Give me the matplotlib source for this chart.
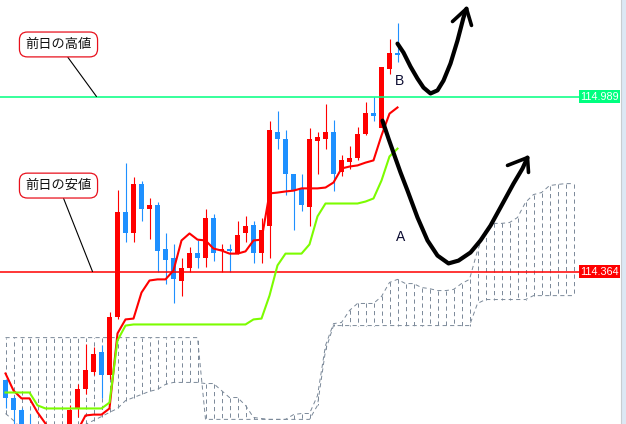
#!/usr/bin/env python3
"""USD/JPY hourly candles with ichimoku lines, cloud and previous-day high/low levels."""

import matplotlib
matplotlib.use("Agg")
import matplotlib.pyplot as plt
from matplotlib import transforms
from matplotlib.patches import Rectangle

plt.rcParams["lines.scale_dashes"] = False

# candles, one per bar index
opens = [113.975, 113.914, 113.871, 113.796, 113.725, 113.707, 113.671, 113.707, 113.761, 113.878,
         113.946, 114.007, 114.075, 113.996, 114.200, 114.578, 114.503, 114.678, 114.589, 114.603,
         114.443, 114.414, 114.332, 114.375, 114.432, 114.414, 114.557, 114.439, 114.446, 114.432,
         114.500, 114.532, 114.432, 114.525, 114.864, 114.839, 114.711, 114.661, 114.596, 114.832,
         114.836, 114.861, 114.718, 114.757, 114.768, 114.857, 114.932, 114.875, 115.089, 115.143]
highs = [113.982, 113.921, 113.878, 113.857, 113.761, 113.743, 113.725, 113.761, 113.889, 113.964,
         114.107, 114.096, 114.103, 114.221, 114.657, 114.750, 114.700, 114.689, 114.628, 114.614,
         114.503, 114.461, 114.411, 114.453, 114.475, 114.589, 114.568, 114.464, 114.464, 114.546,
         114.561, 114.543, 114.557, 114.903, 114.936, 114.868, 114.711, 114.711, 114.875, 114.861,
         114.961, 114.907, 114.782, 114.814, 114.882, 114.971, 114.986, 115.093, 115.196, 115.253]
lows = [113.875, 113.796, 113.761, 113.725, 113.654, 113.636, 113.618, 113.654, 113.725, 113.846,
        113.928, 113.993, 113.914, 113.982, 114.196, 114.468, 114.468, 114.546, 114.482, 114.361,
        114.321, 114.253, 114.275, 114.364, 114.378, 114.382, 114.403, 114.361, 114.361, 114.428,
        114.468, 114.393, 114.396, 114.411, 114.803, 114.636, 114.511, 114.582, 114.528, 114.714,
        114.803, 114.653, 114.707, 114.732, 114.761, 114.853, 114.900, 114.875, 115.068, 115.111]
closes = [113.914, 113.871, 113.789, 113.743, 113.689, 113.671, 113.707, 113.743, 113.868, 113.946,
          114.011, 114.071, 113.993, 114.200, 114.578, 114.500, 114.678, 114.589, 114.603, 114.436,
          114.407, 114.339, 114.375, 114.432, 114.411, 114.557, 114.432, 114.446, 114.436, 114.496,
          114.528, 114.432, 114.511, 114.868, 114.836, 114.711, 114.653, 114.603, 114.836, 114.843,
          114.861, 114.711, 114.761, 114.768, 114.857, 114.932, 114.918, 115.093, 115.146, 115.136]

# ichimoku conversion / base lines
tenkan = [114.000, 113.939, 113.911, 113.911, 113.861, 113.821, 113.778, 113.761, 113.761, 113.796,
          113.850, 113.853, 113.853, 113.875, 114.143, 114.193, 114.196, 114.289, 114.332, 114.336,
          114.336, 114.368, 114.475, 114.500, 114.478, 114.475, 114.446, 114.439, 114.428, 114.428,
          114.436, 114.475, 114.478, 114.643, 114.646, 114.650, 114.653, 114.661, 114.661, 114.661,
          114.664, 114.682, 114.732, 114.739, 114.743, 114.753, 114.761, 114.850, 114.928, 114.950]
kijun = [113.932, 113.932, 113.932, 113.932, 113.886, 113.875, 113.875, 113.875, 113.875, 113.875,
         113.875, 113.875, 113.875, 113.896, 114.118, 114.171, 114.175, 114.175, 114.175, 114.175,
         114.175, 114.175, 114.175, 114.175, 114.175, 114.175, 114.175, 114.175, 114.175, 114.175,
         114.175, 114.193, 114.196, 114.278, 114.386, 114.428, 114.428, 114.428, 114.461, 114.561,
         114.607, 114.607, 114.607, 114.607, 114.607, 114.614, 114.625, 114.689, 114.775, 114.803]

# leading spans (already displaced, so they run past the last candle)
span_a = [113.857, 113.832, 113.803, 113.789, 113.782, 113.778, 113.778, 113.782, 113.789, 113.803,
          113.818, 113.832, 113.846, 113.861, 113.875, 113.903, 113.914, 113.925, 113.936, 113.943,
          113.961, 113.968, 113.968, 113.968, 113.968, 113.964, 113.964, 113.939, 113.914, 113.914,
          113.886, 113.843, 113.839, 113.836, 113.836, 113.836, 113.853, 113.857, 113.857, 113.921,
          114.100, 114.178, 114.182, 114.225, 114.250, 114.250, 114.250, 114.275, 114.325, 114.336,
          114.321, 114.321, 114.307, 114.303, 114.296, 114.296, 114.300, 114.321, 114.336, 114.439,
          114.511, 114.536, 114.536, 114.539, 114.557, 114.611, 114.639, 114.646, 114.671, 114.675,
          114.678, 114.678]
span_b = [114.128, 114.128, 114.128, 114.128, 114.128, 114.128, 114.128, 114.128, 114.128, 114.128,
          114.128, 114.128, 114.128, 114.128, 114.128, 114.128, 114.128, 114.128, 114.128, 114.128,
          114.128, 114.128, 114.128, 114.128, 114.128, 113.836, 113.836, 113.836, 113.836, 113.836,
          113.836, 113.836, 113.836, 113.836, 113.836, 113.836, 113.836, 113.836, 113.836, 113.886,
          114.082, 114.171, 114.171, 114.171, 114.171, 114.171, 114.171, 114.171, 114.171, 114.171,
          114.171, 114.171, 114.171, 114.171, 114.171, 114.171, 114.171, 114.171, 114.171, 114.250,
          114.264, 114.264, 114.264, 114.264, 114.264, 114.264, 114.278, 114.278, 114.278, 114.278,
          114.278, 114.278]

levels = [114.989, 114.364]
level_labels = ["114.989", "114.364"]
level_colors = ["#00FF80", "#FF0000"]

notes = ["前日の高値", "前日の安値"]
note_xy = [(6.625, 115.175), (6.625, 114.671)]
note_target = [(11.375, 114.989), (10.875, 114.364)]

# hand drawn scenario arrows (bar index, price)
arrow_b_x = [49.0, 49.75, 50.625, 51.5, 52.25, 53.125, 54.0, 54.75, 55.625, 56.5, 57.25, 57.625]
arrow_b_y = [115.178, 115.146, 115.096, 115.053, 115.021, 115.000, 115.011, 115.046, 115.107,
             115.189, 115.271, 115.303]
head_b_x = [55.875, 57.625, 58.25]
head_b_y = [115.257, 115.303, 115.243]
arrow_a_x = [47.125, 47.875, 48.75, 49.375, 50.25, 51.5, 52.75, 54.0, 55.375, 56.625, 58.125,
             59.375, 60.625, 61.875, 63.5, 64.625, 65.25]
arrow_a_y = [114.903, 114.839, 114.768, 114.718, 114.653, 114.557, 114.475, 114.421, 114.393,
             114.403, 114.432, 114.475, 114.528, 114.593, 114.678, 114.732, 114.771]
head_a_x = [62.75, 65.25, 65.375]
head_a_y = [114.743, 114.771, 114.718]

UP = "#FF0000"
DOWN = "#1E90FF"
CLOUD = "#7A8898"


def main() -> None:
    fig = plt.figure(figsize=(6.26, 4.24), dpi=100)
    fig.patch.set_facecolor("white")
    ax = fig.add_axes([0, 0, 1, 1])
    ax.set_axis_off()
    ax.set_xlim(-0.6875, 77.5625)
    ax.set_ylim(113.8195, 115.3338)

    # cloud: dashed hatch at every bar between the two spans
    xs = list(range(len(span_a)))
    dash = (0, (3, 2.4))
    ax.vlines(xs, span_a, span_b, colors=CLOUD, linewidth=0.7, linestyles=[dash], zorder=1)
    ax.plot(xs, span_a, color=CLOUD, linewidth=0.7, linestyle=dash, zorder=1)
    ax.plot(xs, span_b, color=CLOUD, linewidth=0.7, linestyle=dash, zorder=1)

    # candles
    for i, (o, h, l, c) in enumerate(zip(opens, highs, lows, closes)):
        col = UP if c >= o else DOWN
        ax.vlines(i, l, h, color=col, linewidth=0.8, zorder=3)
        ax.bar(i, max(abs(c - o), 0.004), bottom=min(o, c), width=0.625, color=col,
               linewidth=0, zorder=3)

    # horizontal price levels with tags on the right
    tag = transforms.blended_transform_factory(ax.transAxes, ax.transData)
    for lvl, lab, col in zip(levels, level_labels, level_colors):
        ax.plot([0, 0.925], [lvl, lvl], color=col, linewidth=1.1, transform=tag, zorder=4)
        ax.add_patch(Rectangle((0.925, lvl - 0.0232), 0.0655, 0.0464, transform=tag,
                               facecolor=col, edgecolor="none", zorder=5))
        ax.text(0.9577, lvl, lab, transform=tag, ha="center", va="center", color="white",
                fontsize=7.8, family="Liberation Sans", zorder=6)

    ax.plot(range(len(tenkan)), tenkan, color="#FF0000", linewidth=1.5, zorder=5)
    ax.plot(range(len(kijun)), kijun, color="#7CFC00", linewidth=1.5, zorder=5)

    # callouts
    for txt, xy, tgt in zip(notes, note_xy, note_target):
        ax.annotate(txt, xy=tgt, xytext=xy, ha="center", va="center", fontsize=9.5,
                    family=["Noto Sans CJK JP", "DejaVu Sans"], color="#101010",
                    bbox=dict(boxstyle="round,pad=0.45,rounding_size=0.6", fc="white",
                              ec="#E8101C", lw=0.9),
                    arrowprops=dict(arrowstyle="-", color="black", lw=0.8,
                                    shrinkA=0, shrinkB=0),
                    zorder=7)

    # scenario arrows
    for px, py, hx, hy in [(arrow_b_x, arrow_b_y, head_b_x, head_b_y),
                           (arrow_a_x, arrow_a_y, head_a_x, head_a_y)]:
        ax.plot(px, py, color="black", linewidth=3, solid_capstyle="round",
                solid_joinstyle="round", zorder=8)
        ax.plot(hx, hy, color="black", linewidth=2.6, solid_capstyle="round",
                solid_joinstyle="round", zorder=8)

    ax.text(49.25, 115.046, "B", ha="center", va="center", fontsize=10,
            family="Liberation Sans", color="#0A0A30", zorder=8)
    ax.text(49.375, 114.486, "A", ha="center", va="center", fontsize=10,
            family="Liberation Sans", color="#0A0A30", zorder=8)

    # price scale edge on the right
    fig.patches.append(Rectangle((621 / 626, 0), 5 / 626, 1, transform=fig.transFigure,
                                 facecolor="#DCE8F4", edgecolor="none", zorder=0))
    fig.lines.append(plt.Line2D([621 / 626, 621 / 626], [0, 1], transform=fig.transFigure,
                                color="#C8CCD0", linewidth=0.8))

    fig.savefig("out.png", dpi=100)


if __name__ == "__main__":
    main()
